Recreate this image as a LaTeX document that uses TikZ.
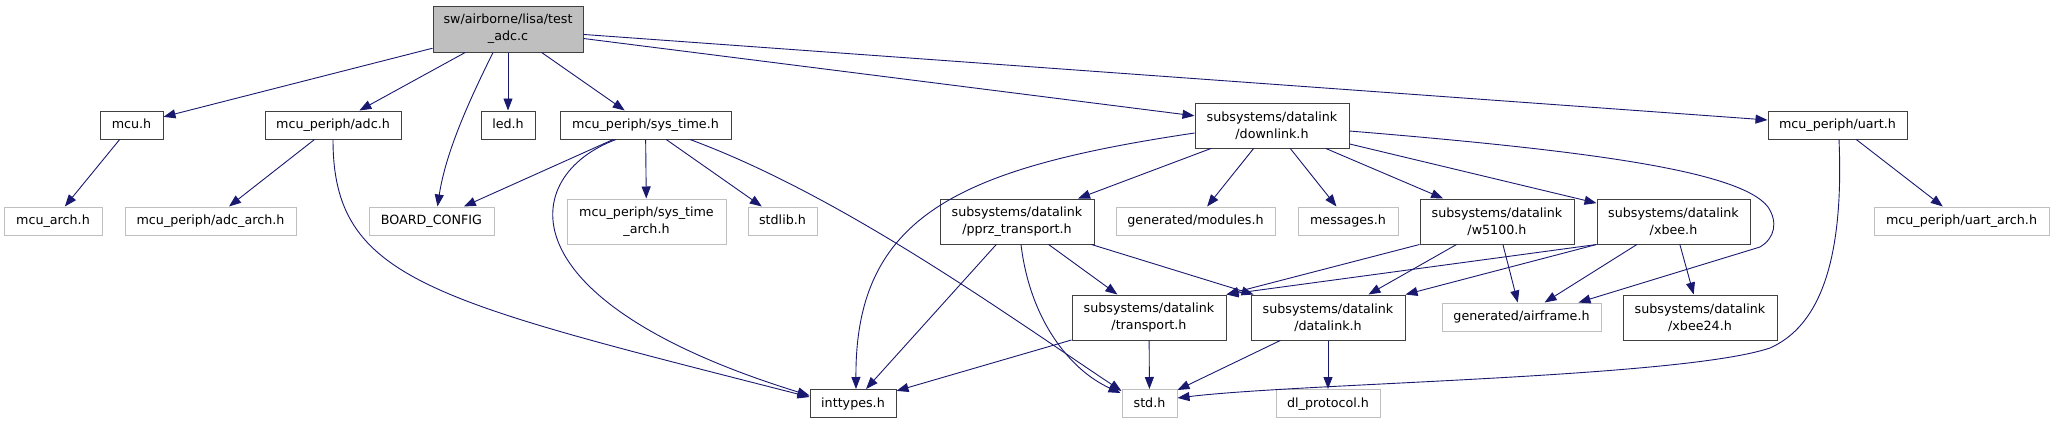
\documentclass[tikz,border=0pt]{standalone}
\usepackage{fontspec}
\setmainfont{DejaVu Sans}
\usetikzlibrary{arrows.meta}
\definecolor{edgeblue}{HTML}{191970}
\definecolor{extgrey}{HTML}{BFBFBF}
\definecolor{docline}{HTML}{404040}
\providecommand{\gfont}{\fontsize{12.7}{16.7}\selectfont}
\tikzset{
  gbox/.style  ={draw=docline, line width=1pt, fill=white, inner sep=0pt,
                 align=center, font=\gfont},
  gone/.style  ={gbox, text height=9.6pt, text depth=2.6pt, minimum height=28pt},
  gtwo/.style  ={gbox, minimum height=45pt},
  gext/.style  ={draw=extgrey},
  groot/.style ={fill=extgrey},
  gedge/.style ={-{Triangle[length=12pt,width=9pt]}, line width=.9pt, draw=edgeblue},
}

\begin{document}
\begin{tikzpicture}[x=1pt, y=-1pt]
  \useasboundingbox (0,0) rectangle (2053,424);
  \fill[white] (0,0) rectangle (2053,424);

  % ---- root ----
  \node[gtwo, groot, minimum width=150pt, minimum height=46pt] (root) at (508,29)
    {sw/airborne/lisa/test\\\_adc.c};

  % ---- row 1 ----
  \node[gone, minimum width=63pt]  (mcu)      at (131.5,125)  {mcu.h};
  \node[gone, minimum width=136pt] (adc)      at (333,125)    {mcu\_periph/adc.h};
  \node[gone, minimum width=54pt]  (led)      at (508,125)    {led.h};
  \node[gone, minimum width=171pt] (systime)  at (645.5,125)  {mcu\_periph/sys\_time.h};
  \node[gtwo, minimum width=154pt] (downlink) at (1272,125.5) {subsystems/datalink\\/downlink.h};
  \node[gone, minimum width=139pt] (uart)     at (1837.5,125) {mcu\_periph/uart.h};

  % ---- row 2 ----
  \node[gone, gext, minimum width=98pt]  (mcuarch)     at (53,221)     {mcu\_arch.h};
  \node[gone, gext, minimum width=171pt] (adcarch)     at (210.5,221)  {mcu\_periph/adc\_arch.h};
  \node[gone, gext, minimum width=125pt] (board)       at (431.5,221)  {BOARD\_CONFIG};
  \node[gtwo, gext, minimum width=159pt] (systimearch) at (646.5,221.5) {mcu\_periph/sys\_time\\\_arch.h};
  \node[gone, gext, minimum width=69pt]  (stdlib)      at (782.5,221)  {stdlib.h};
  \node[gtwo, minimum width=154pt]       (pprz)        at (1017,221.5) {subsystems/datalink\\/pprz\_transport.h};
  \node[gone, gext, minimum width=159pt] (modules)     at (1195.5,221) {generated/modules.h};
  \node[gone, gext, minimum width=100pt] (messages)    at (1348,221)   {messages.h};
  \node[gtwo, minimum width=154pt]       (w5100)       at (1497,221.5) {subsystems/datalink\\/w5100.h};
  \node[gtwo, minimum width=153pt]       (xbee)        at (1673.5,221.5) {subsystems/datalink\\/xbee.h};
  \node[gone, gext, minimum width=175pt] (uartarch)    at (1961.5,221) {mcu\_periph/uart\_arch.h};

  % ---- row 3 ----
  \node[gtwo, minimum width=154pt]       (transport) at (1149,317.5)  {subsystems/datalink\\/transport.h};
  \node[gtwo, minimum width=154pt]       (datalink)  at (1328,317.5)  {subsystems/datalink\\/datalink.h};
  \node[gone, gext, minimum width=159pt] (airframe)  at (1521.5,317)  {generated/airframe.h};
  \node[gtwo, minimum width=154pt]       (xbee24)    at (1700,317.5)  {subsystems/datalink\\/xbee24.h};

  % ---- row 4 ----
  \node[gone, minimum width=86pt]        (inttypes) at (853,403.5)   {inttypes.h};
  \node[gone, gext, minimum width=55pt]  (stdh)     at (1149.5,403.5) {std.h};
  \node[gone, gext, minimum width=104pt] (dlproto)  at (1328,403.5)  {dl\_protocol.h};

  % ---- edges from root ----
  \draw[gedge] (root) -- (mcu);
  \draw[gedge] (root) -- (adc);
  \draw[gedge] ([xshift=-15pt]root.south) .. controls (472,95) and (446,150) .. ([xshift=6pt]board.north);
  \draw[gedge] (root) -- (led);
  \draw[gedge] (root) -- (systime);
  \draw[gedge] (root) -- (downlink);
  \draw[gedge] (root) -- (uart);

  % ---- edges from row 1 ----
  \draw[gedge] (mcu) -- (mcuarch);
  \draw[gedge] (adc) -- (adcarch);
  \draw[gedge] (adc.south) .. controls (333,280) and (430,300) .. ([yshift=6.5pt]inttypes.west);
  \draw[gedge] (systime) -- (board);
  \draw[gedge] ([xshift=-29.5pt]systime.south) .. controls (520,175) and (500,300) .. ([yshift=8pt]inttypes.west);
  \draw[gedge] (systime) -- (systimearch);
  \draw[gedge] (systime) -- (stdlib);
  \draw[gedge] ([xshift=44.5pt]systime.south) .. controls (840,195) and (1000,310) .. ([yshift=-2pt]stdh.north west);
  \draw[gedge] ([yshift=-7.5pt]downlink.west) .. controls (960,168) and (855,215) .. ([xshift=3pt]inttypes.north);
  \draw[gedge] (downlink) -- (pprz);
  \draw[gedge] (downlink) -- (modules);
  \draw[gedge] (downlink) -- (messages);
  \draw[gedge] (downlink) -- (w5100);
  \draw[gedge] (downlink) -- (xbee);
  \draw[gedge] ([yshift=-5.5pt]downlink.east) .. controls (1580,150) and (1740,170) .. (1768,207)
    .. controls (1778,222) and (1775,238) .. (1760,247) -- ([xshift=-23pt]airframe.north east);
  \draw[gedge] (uart) -- (uartarch);
  \draw[gedge] ([xshift=1.5pt]uart.south) .. controls (1845,280) and (1810,330) .. (1770,348)
    .. controls (1680,378) and (1300,383) .. ([yshift=5.5pt]stdh.east);

  % ---- edges from row 2 ----
  \draw[gedge] (pprz) -- (inttypes);
  \draw[gedge] ([xshift=4pt]pprz.south) .. controls (1030,320) and (1070,370) .. ([xshift=-1pt,yshift=-4pt]stdh.north west);
  \draw[gedge] (pprz) -- (transport);
  \draw[gedge] (pprz) -- (datalink);
  \draw[gedge] (w5100.south west) -- (transport.north east);
  \draw[gedge] (w5100) -- (datalink);
  \draw[gedge] (w5100) -- (airframe);
  \draw[gedge] (xbee.south west) -- (transport.north east);
  \draw[gedge] (xbee.south west) -- (datalink.north east);
  \draw[gedge] (xbee) -- (airframe);
  \draw[gedge] (xbee) -- (xbee24);

  % ---- edges from row 3 ----
  \draw[gedge] (transport) -- (inttypes);
  \draw[gedge] (transport) -- (stdh);
  \draw[gedge] (datalink) -- (stdh);
  \draw[gedge] (datalink) -- (dlproto);

\end{tikzpicture}
\end{document}
